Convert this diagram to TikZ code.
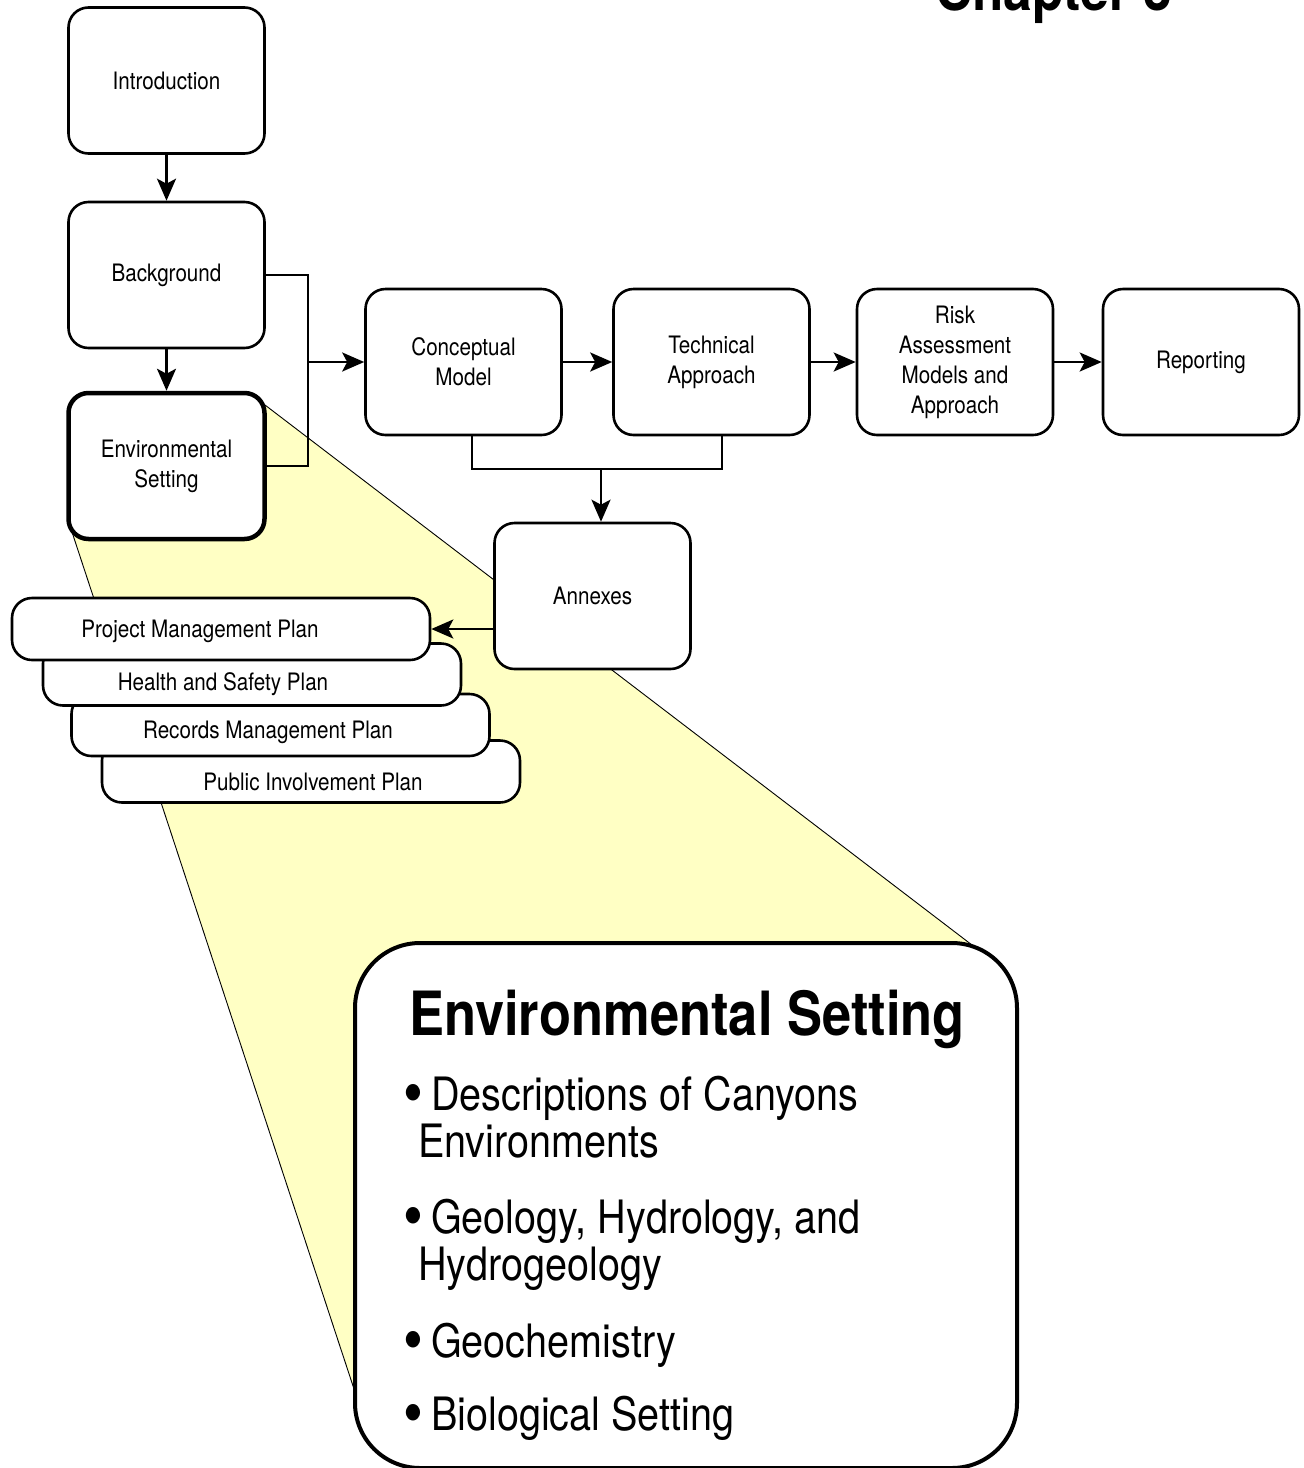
\documentclass[tikz,border=0pt]{standalone}
\usepackage{fontspec}
\setmainfont{TeX Gyre Heros}[FakeStretch=0.86]
\usetikzlibrary{arrows.meta}
\definecolor{calloutyellow}{RGB}{255,255,196}
\newcommand{\bigbul}{\makebox[14pt][c]{\fontsize{66}{47}\selectfont\raisebox{-5pt}{•}}}
\tikzset{
  box/.style={draw, line width=2.6pt, rounded corners=20pt, fill=white,
    minimum width=196pt, minimum height=146pt, inner sep=0pt, align=center,
    font=\fontsize{24}{30}\selectfont},
  plan/.style={draw, line width=2.6pt, rounded corners=20pt, fill=white,
    minimum width=418pt, minimum height=62pt, inner sep=0pt},
  plantext/.style={anchor=base, inner sep=0pt, font=\fontsize{24}{30}\selectfont},
  conn/.style={line width=2.6pt},
  arr/.style={conn, -{Stealth[length=22pt,width=19pt,inset=5pt]}},
  bullettext/.style={anchor=base west, inner sep=0pt, font=\fontsize{46}{47}\selectfont},
  calloutline/.style={line width=0.9pt},
}
\begin{document}
\begin{tikzpicture}[x=1pt,y=-1pt]
\useasboundingbox (0,0) rectangle (1304,1468);
\clip (0,0) rectangle (1304,1468);

% callout (zoom) region
\fill[calloutyellow] (265,405) -- (972,945) -- (355,1392) -- (72,532) -- cycle;
\draw[calloutline] (265,405) -- (972,945);
\draw[calloutline] (72,532) -- (355,1392);

% title (cut off at the top)
\node[anchor=base west, inner sep=0pt, font=\fontsize{60}{60}\selectfont\bfseries] (chap) at (935,10) {Chapter 3};

% main flow boxes
\node[box] (intro) at (166.5,80.5) {Introduction};
\node[box] (bg) at (166.5,275) {Background};
\node[box, line width=4.5pt] (env) at (166.5,466) {Environmental\\Setting};
\node[box] (concept) at (463.5,362) {Conceptual\\Model};
\node[box] (tech) at (711.5,362) {Technical\\Approach};
\node[box] (risk) at (955,362) {Risk\\Assessment\\Models and\\Approach};
\node[box] (report) at (1201,362) {Reporting};
\node[box] (annex) at (592.5,596) {Annexes};

% stacked plans (back to front)
\node[plan] (pip) at (311,771.5) {};
\node[plantext] (piptext) at (313,790) {Public Involvement Plan};
\node[plan] (rmp) at (280.5,725) {};
\node[plantext] (rmptext) at (268,738) {Records Management Plan};
\node[plan] (hsp) at (252,674.5) {};
\node[plantext] (hsptext) at (223,690) {Health and Safety Plan};
\node[plan] (pmp) at (221,629) {};
\node[plantext] (pmptext) at (200,637) {Project Management Plan};

% connectors
\draw[arr] (intro) -- (bg);
\draw[arr] (bg) -- (env);
\coordinate (bx) at (308,0);
\draw[conn] (bg.east) -| (bx |- env.east) -- (env.east);
\draw[arr] (bx |- concept.west) -- (concept.west);
\draw[arr] (concept) -- (tech);
\draw[arr] (tech) -- (risk);
\draw[arr] (risk) -- (report);
\coordinate (cl) at (472,469);
\coordinate (tl) at (722,469);
\coordinate (ja) at (601,469);
\draw[conn] (cl |- concept.south) -- (cl) -- (tl) -- (tl |- tech.south);
\draw[arr] (ja) -- (ja |- annex.north);
\draw[arr] (annex.west |- pmp.east) -- (pmp.east);

% zoomed detail box
\node[draw, line width=4pt, rounded corners=65pt, fill=white,
  minimum width=662pt, minimum height=525pt, inner sep=0pt] (detail) at (686,1205.5) {};
\node[anchor=base west, inner sep=0pt, font=\fontsize{61}{61}\selectfont\bfseries] (dtitle) at (409,1035) {Environmental Setting};
\node[bullettext] (b1a) at (406,1110) {\bigbul{} Descriptions of Canyons};
\node[bullettext] (b1b) at (418,1157) {Environments};
\node[bullettext] (b2a) at (406,1233) {\bigbul{} Geology, Hydrology, and};
\node[bullettext] (b2b) at (418,1280) {Hydrogeology};
\node[bullettext] (b3) at (406,1357) {\bigbul{} Geochemistry};
\node[bullettext] (b4) at (406,1430) {\bigbul{} Biological Setting};
\end{tikzpicture}
\end{document}
